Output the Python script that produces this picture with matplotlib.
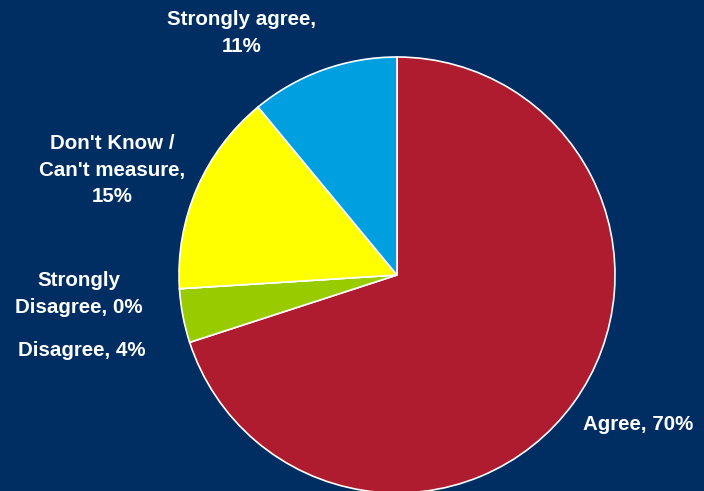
import matplotlib.pyplot as plt

# Survey response shares
labels = ["Agree", "Disagree", "Strongly\nDisagree", "Don't Know /\nCan't measure", "Strongly agree"]
values = [70, 4, 0, 15, 11]
colors = ['#AF1C2F', '#99CC00', '#FF6600', '#FFFF00', '#00A0E0']

bg = '#012E62'
W, H = 704, 491
cx, cy, r = 397, 275, 218

fig = plt.figure(figsize=(W / 100, H / 100), dpi=100, facecolor=bg)
ax = fig.add_axes([0, 0, 1, 1])
ax.set_facecolor(bg)
ax.pie(values, colors=colors, startangle=90, counterclock=False,
       radius=r, center=(cx, H - cy),
       wedgeprops=dict(edgecolor='white', linewidth=1.2))
ax.set_xlim(0, W)
ax.set_ylim(0, H)
ax.set_aspect('equal')
ax.axis('off')

# Category labels, positioned in pixel coordinates (from top-left)
label_text = [
    "Agree, 70%",
    "Disagree, 4%",
    "Strongly\nDisagree, 0%",
    "Don't Know /\nCan't measure,\n15%",
    "Strongly agree,\n11%",
]
label_pos = [(638, 424), (82, 350), (79, 294), (112, 170), (242, 33)]

for txt, (x, y) in zip(label_text, label_pos):
    ax.text(x, H - y, txt, ha='center', va='center', color='white',
            fontsize=14.8, fontweight='bold', family='Liberation Sans',
            linespacing=1.52)

fig.savefig('out.png', dpi=100, facecolor=bg)
